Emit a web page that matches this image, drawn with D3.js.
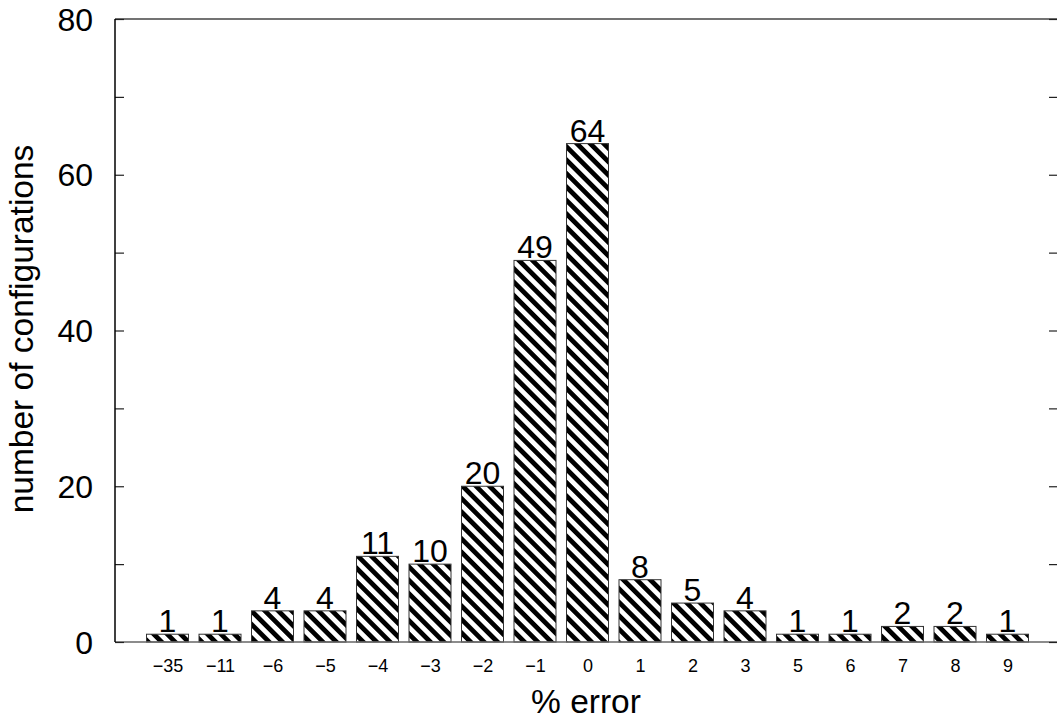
<!DOCTYPE html>
<html>
<head>
<meta charset="utf-8">
<script src="https://cdn.jsdelivr.net/npm/d3@7"></script>
<style>
  html, body { margin: 0; padding: 0; background: #fff; }
  svg { display: block; font-family: "Liberation Sans", Arial, Helvetica, sans-serif; }
</style>
</head>
<body>
<svg id="chart" width="1057" height="720"></svg>
<script>
const categories = ["\u221235", "\u221211", "\u22126", "\u22125", "\u22124", "\u22123", "\u22122", "\u22121", "0", "1", "2", "3", "5", "6", "7", "8", "9"];
const counts = [1, 1, 4, 4, 11, 10, 20, 49, 64, 8, 5, 4, 1, 1, 2, 2, 1];
const yTicks = [0, 10, 20, 30, 40, 50, 60, 70, 80];
const yTickLabels = [0, 20, 40, 60, 80];
const xTitle = "% error";
const yTitle = "number of configurations";

const svg = d3.select("#chart");
const mLeft = 115, mRight = 1060, mTop = 19, mBottom = 642;

const x = d3.scalePoint().domain(categories).range([mLeft, mRight]).padding(1);
const y = d3.scaleLinear().domain([0, 80]).range([mBottom, mTop]);
const barW = 42;

// hatch pattern
const P = 9.5;
const defs = svg.append("defs");
const pat = defs.append("pattern")
  .attr("id", "hatch")
  .attr("patternUnits", "userSpaceOnUse")
  .attr("width", P).attr("height", P)
  .attr("patternTransform", "rotate(-45)");
pat.append("rect").attr("width", P).attr("height", P).attr("fill", "#fff");
pat.append("rect").attr("x", 0).attr("width", P / 2).attr("height", P).attr("fill", "#000");

// bars
svg.append("g").selectAll("rect")
  .data(counts)
  .join("rect")
  .attr("x", (d, i) => x(categories[i]) - barW / 2)
  .attr("y", d => y(d))
  .attr("width", barW)
  .attr("height", d => y(0) - y(d))
  .attr("fill", "url(#hatch)")
  .attr("stroke", "#333")
  .attr("stroke-width", 1);

// value labels
svg.append("g").selectAll("text")
  .data(counts)
  .join("text")
  .attr("x", (d, i) => x(categories[i]))
  .attr("y", d => y(d) - 2)
  .attr("text-anchor", "middle")
  .attr("font-size", 32)
  .attr("fill", "#000")
  .text(d => d);

// frame lines
svg.append("line").attr("x1", mLeft).attr("x2", 1057).attr("y1", mTop).attr("y2", mTop)
  .attr("stroke", "#444").attr("stroke-width", 1.5);
svg.append("line").attr("x1", mLeft).attr("x2", 1057).attr("y1", mBottom).attr("y2", mBottom)
  .attr("stroke", "#666").attr("stroke-width", 1.5);

// left axis with inward ticks
const yAxisL = d3.axisLeft(y).tickValues(yTicks).tickSize(-9).tickFormat("");
const gL = svg.append("g").attr("transform", `translate(${mLeft},0)`).call(yAxisL);
gL.select(".domain").remove();
gL.selectAll(".tick line").attr("stroke", "#222").attr("stroke-width", 1.2);
svg.append("line").attr("x1", mLeft).attr("x2", mLeft).attr("y1", mTop).attr("y2", mBottom)
  .attr("stroke", "#000").attr("stroke-width", 1.5);

// right axis with inward ticks
const yAxisR = d3.axisRight(y).tickValues(yTicks).tickSize(-9).tickFormat("");
const gR = svg.append("g").attr("transform", `translate(${mRight - 2},0)`).call(yAxisR);
gR.select(".domain").remove();
gR.selectAll(".tick line").attr("stroke", "#222").attr("stroke-width", 1.2);

// y tick labels
svg.append("g").selectAll("text")
  .data(yTickLabels)
  .join("text")
  .attr("x", 93)
  .attr("y", d => y(d))
  .attr("dy", "0.36em")
  .attr("text-anchor", "end")
  .attr("font-size", 32)
  .text(d => d);

// x tick labels
const xAxis = d3.axisBottom(x).tickSize(0).tickPadding(0);
const gX = svg.append("g").attr("transform", `translate(0,${mBottom})`).call(xAxis);
gX.select(".domain").remove();
gX.selectAll(".tick text")
  .attr("y", 30)
  .attr("dy", 0)
  .attr("font-size", 18)
  .attr("font-family", "Liberation Sans, Arial, sans-serif")
  .attr("fill", "#000");

// axis titles
svg.append("text")
  .attr("x", 586)
  .attr("y", 713)
  .attr("text-anchor", "middle")
  .attr("font-size", 33.5)
  .text(xTitle);

svg.append("text")
  .attr("transform", "translate(33,329) rotate(-90)")
  .attr("text-anchor", "middle")
  .attr("font-size", 33.5)
  .text(yTitle);
</script>
</body>
</html>
